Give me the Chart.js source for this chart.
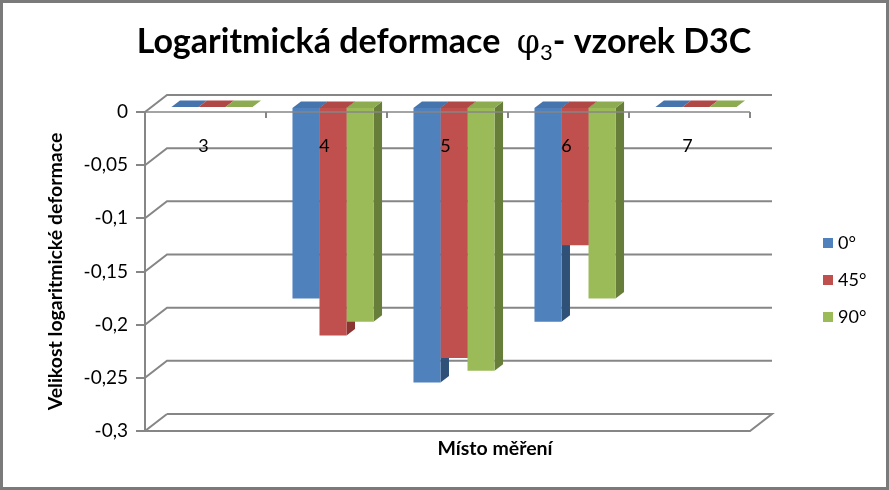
<!DOCTYPE html>
<html><head><meta charset="utf-8">
<script src="https://cdn.jsdelivr.net/npm/chart.js@4.4.1/dist/chart.umd.min.js"></script>
<style>html,body{margin:0;padding:0;background:#fff}canvas{display:block}</style>
</head><body>
<canvas id="c" width="889" height="490"></canvas>
<script>
// ---- data ----
const categories = ['3', '4', '5', '6', '7'];
const seriesNames = ['0°', '45°', '90°'];
const values0  = [0, -0.18,  -0.259, -0.202, 0];
const values45 = [0, -0.215, -0.236, -0.13,  0];
const values90 = [0, -0.202, -0.248, -0.18,  0];
const yMin = -0.3, yMax = 0, yStep = 0.05;
const titleParts = ['Logaritmická deformace  ', 'φ', '3', '- vzorek D3C'];
const xTitle = 'Místo měření';
const yTitle = 'Velikost logaritmické deformace';

// ---- style ----
const frontColors = ['#4F81BD', '#C0504D', '#9BBB59'];
const topColors   = ['#4674AC', '#B04946', '#8DAB50'];
const sideColors  = ['#2F5178', '#8A3532', '#677D3A'];
const GRID = '#868686';
const DEPTH = {dx: 22, dy: -17};
const BAR = {dx: 6.5, dy: -5};
const SIDE = {dx: 8.5, dy: -6.5};
const FONT = 'Lato, "Open Sans", sans-serif';

const deco = {
  id: 'deco',
  beforeDraw(chart) {
    const c = chart.ctx;
    c.save(); c.fillStyle = '#fff'; c.fillRect(0, 0, chart.width, chart.height); c.restore();
  },
  beforeDatasetsDraw(chart) {
    const {ctx, chartArea: a, scales: {x, y}} = chart;
    ctx.save();
    ctx.strokeStyle = GRID; ctx.lineWidth = 2;
    y.ticks.forEach(t => {
      const py = y.getPixelForValue(t.value);
      if (Math.abs(t.value - yMin) < 1e-9) return;
      ctx.beginPath();
      ctx.moveTo(a.left, py);
      ctx.lineTo(a.left + DEPTH.dx, py + DEPTH.dy);
      ctx.lineTo(a.right + DEPTH.dx, py + DEPTH.dy);
      ctx.stroke();
    });
    const pb = y.getPixelForValue(yMin);
    ctx.beginPath();
    ctx.moveTo(a.left + DEPTH.dx, pb + DEPTH.dy);
    ctx.lineTo(a.right + DEPTH.dx, pb + DEPTH.dy);
    ctx.lineTo(a.right, pb);
    ctx.lineTo(a.left, pb);
    ctx.lineTo(a.left + DEPTH.dx, pb + DEPTH.dy);
    ctx.stroke();
    ctx.restore();

    ctx.save();
    ctx.translate(BAR.dx, BAR.dy);
    const metas = chart.data.datasets.map((d, i) => chart.getDatasetMeta(i));
    for (let j = 0; j < categories.length; j++) {
      metas.forEach((m, i) => {
        const el = m.data[j];
        const p = el.getProps(['x', 'y', 'base', 'width'], true);
        const l = p.x - p.width / 2, r = p.x + p.width / 2;
        const top = Math.min(p.y, p.base), bot = Math.max(p.y, p.base);
        ctx.fillStyle = sideColors[i];
        ctx.beginPath();
        ctx.moveTo(r, top); ctx.lineTo(r + SIDE.dx, top + SIDE.dy);
        ctx.lineTo(r + SIDE.dx, bot + SIDE.dy); ctx.lineTo(r, bot);
        ctx.closePath(); ctx.fill();
        ctx.fillStyle = topColors[i];
        ctx.beginPath();
        ctx.moveTo(l, top); ctx.lineTo(r, top);
        ctx.lineTo(r + SIDE.dx, top + SIDE.dy); ctx.lineTo(l + SIDE.dx, top + SIDE.dy);
        ctx.closePath(); ctx.fill();
      });
    }
    // translation stays active while Chart.js draws the bar fronts
  },
  afterDatasetsDraw(chart) {
    const {ctx, chartArea: a, scales: {x, y}} = chart;
    ctx.restore();
    ctx.save();
    const y0 = y.getPixelForValue(0);
    const half = (x.getPixelForValue(1) - x.getPixelForValue(0)) / 2;
    ctx.strokeStyle = 'rgba(134,134,134,0.75)'; ctx.lineWidth = 2;
    ctx.beginPath(); ctx.moveTo(a.left, y0); ctx.lineTo(a.right, y0); ctx.stroke();
    ctx.strokeStyle = GRID;
    for (let j = 0; j < categories.length; j++) {
      const bx = x.getPixelForValue(j) + half;
      ctx.beginPath(); ctx.moveTo(bx, y0); ctx.lineTo(bx, y0 + 6); ctx.stroke();
    }
    ctx.fillStyle = '#000';
    ctx.font = '18px ' + FONT;
    ctx.textAlign = 'center'; ctx.textBaseline = 'middle';
    categories.forEach((c, j) => ctx.fillText(c, x.getPixelForValue(j) - 2, y0 + 34));
    ctx.restore();
  },
  afterDraw(chart) {
    const ctx = chart.ctx;
    ctx.save();
    // title
    const fMain = 'bold 34px ' + FONT;
    const fPhi = '33px "DejaVu Serif", "Liberation Serif", serif';
    const fSub = '22px ' + FONT;
    const parts = [
      {t: titleParts[0], f: fMain, dy: 0},
      {t: titleParts[1], f: fPhi, dy: 0},
      {t: titleParts[2], f: fSub, dy: 7},
      {t: titleParts[3], f: fMain, dy: 0}
    ];
    let total = 0;
    parts.forEach(p => { ctx.font = p.f; p.w = ctx.measureText(p.t).width; total += p.w; });
    let tx = 444 - total / 2;
    ctx.fillStyle = '#000'; ctx.textBaseline = 'alphabetic'; ctx.textAlign = 'left';
    parts.forEach(p => { ctx.font = p.f; ctx.fillText(p.t, tx, 53 + p.dy); tx += p.w; });
    // x title
    ctx.font = 'bold 19.5px ' + FONT; ctx.textAlign = 'center'; ctx.textBaseline = 'middle';
    ctx.fillText(xTitle, 495, 449);
    // legend
    ctx.font = '18px ' + FONT; ctx.textAlign = 'left';
    chart.data.datasets.forEach((d, i) => {
      const cy = 243 + i * 37;
      ctx.fillStyle = d.backgroundColor;
      ctx.fillRect(823, cy - 5, 10, 10);
      ctx.fillStyle = '#000';
      ctx.fillText(d.label, 838, cy);
    });
    // frame
    ctx.strokeStyle = '#7a7a7a'; ctx.lineWidth = 3;
    ctx.strokeRect(1.5, 1.5, chart.width - 3, chart.height - 3);
    ctx.restore();
  }
};

const fmt = v => { const n = Number(v.toFixed(2)); return n === 0 ? '0' : String(n).replace('.', ','); };

new Chart(document.getElementById('c'), {
  type: 'bar',
  data: {
    labels: categories,
    datasets: [
      {label: seriesNames[0], data: values0,  backgroundColor: frontColors[0]},
      {label: seriesNames[1], data: values45, backgroundColor: frontColors[1]},
      {label: seriesNames[2], data: values90, backgroundColor: frontColors[2]}
    ]
  },
  options: {
    responsive: false,
    animation: false,
    events: [],
    layout: {padding: {top: 112, right: 139, left: 0, bottom: 0}},
    datasets: {bar: {categoryPercentage: 0.67, barPercentage: 1, borderWidth: 0, clip: false}},
    plugins: {legend: {display: false}, title: {display: false}, tooltip: {enabled: false}},
    scales: {
      x: {
        grid: {display: false},
        border: {display: false},
        ticks: {display: false},
        afterFit: s => { s.height = 59; }
      },
      y: {
        min: yMin, max: yMax,
        ticks: {stepSize: yStep, color: '#000', font: {family: FONT, size: 19}, padding: 8, callback: v => fmt(v)},
        grid: {drawOnChartArea: false, drawTicks: true, tickLength: 9, color: GRID, lineWidth: 2},
        border: {display: true, color: GRID, width: 2},
        title: {display: true, text: yTitle, color: '#000', font: {family: FONT, size: 19.5, weight: 'bold'}, padding: {top: 44, bottom: 0}},
        afterFit: s => { s.width = 145; }
      }
    }
  },
  plugins: [deco]
});
</script>
</body></html>
